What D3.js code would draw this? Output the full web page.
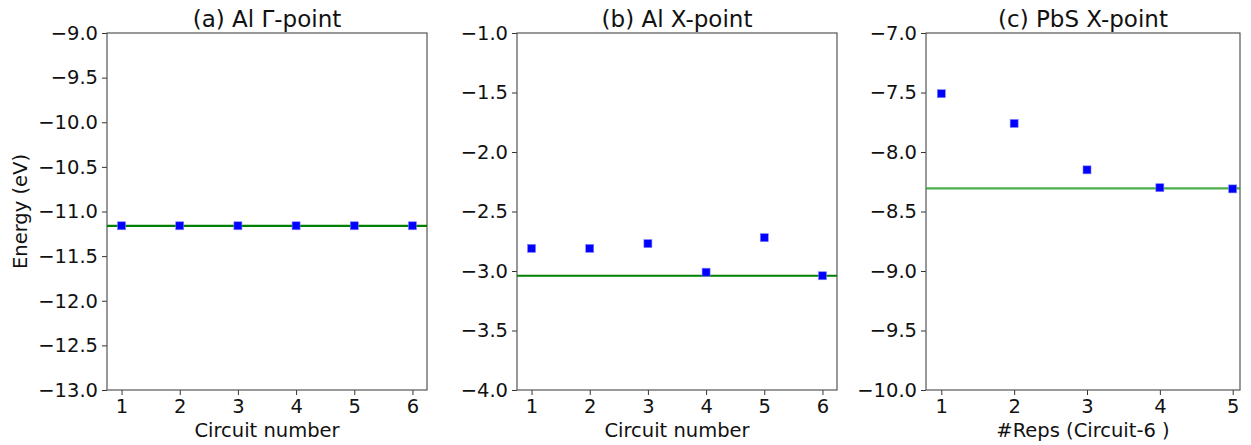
<!DOCTYPE html>
<html>
<head>
<meta charset="utf-8">
<script src="https://cdn.jsdelivr.net/npm/d3@7"></script>
<style>
  body { margin: 0; background: #fff; }
  text { font-family: "DejaVu Sans", sans-serif; fill: #111; }
</style>
</head>
<body>
<div class="chart"></div>
<script>
// panel titles
var titles = ["(a) Al Γ-point", "(b) Al X-point", "(c) PbS X-point"];
var xLabels = ["Circuit number", "Circuit number", "#Reps (Circuit-6 )"];

// x values for each panel
var circuits = [1, 2, 3, 4, 5, 6];
var reps = [1, 2, 3, 4, 5];

// energies (eV)
var alGamma = [-11.16, -11.16, -11.16, -11.16, -11.16, -11.16];
var alX = [-2.81, -2.81, -2.77, -3.01, -2.72, -3.04];
var pbsX = [-7.51, -7.76, -8.15, -8.30, -8.31];

// exact reference energies (green lines)
var exactE = [-11.16, -3.04, -8.305];

// y axis ranges and ticks
var yDomains = [[-13, -9], [-4, -1], [-10, -7]];
var yTicks = [
    d3.range(-13, -8.99, 0.5),
    d3.range(-4, -0.99, 0.5),
    d3.range(-10, -6.99, 0.5)
];
var xDomains = [[0.75, 6.25], [0.75, 6.25], [0.79, 5.1]];

var panels = [
    {x: circuits, y: alGamma, left: 107, right: 427, line: "#008000", lineOp: 1},
    {x: circuits, y: alX, left: 517, right: 837, line: "#008000", lineOp: 1},
    {x: reps, y: pbsX, left: 926, right: 1240, line: "#2ca02c", lineOp: 0.85}
];

var width = 1251, height = 445;
var top_ = 33, bottom = 390;

var svg = d3.select(".chart").append("svg")
    .attr("width", width)
    .attr("height", height);

var fmt = function(d) { return d3.format(".1f")(d).replace("-", "−"); };

panels.forEach(function(p, i) {
    var x = d3.scaleLinear().domain(xDomains[i]).range([p.left, p.right]);
    var y = d3.scaleLinear().domain(yDomains[i]).range([bottom, top_]);

    var g = svg.append("g");

    // axes
    g.append("g")
        .attr("transform", "translate(0," + bottom + ")")
        .call(d3.axisBottom(x).tickValues(p.x).tickFormat(d3.format("d")).tickSize(5).tickPadding(4))
        .call(function(a) {
            a.select(".domain").remove();
            a.selectAll("line").attr("stroke", "#333");
            a.selectAll("text").style("font-size", "19.5px").attr("fill", "#111");
        });

    g.append("g")
        .attr("transform", "translate(" + p.left + ",0)")
        .call(d3.axisLeft(y).tickValues(yTicks[i]).tickFormat(fmt).tickSize(5).tickPadding(4))
        .call(function(a) {
            a.select(".domain").remove();
            a.selectAll("line").attr("stroke", "#333");
            a.selectAll("text").style("font-size", "19.5px").attr("fill", "#111");
        });

    // frame
    g.append("rect")
        .attr("x", p.left)
        .attr("y", top_)
        .attr("width", p.right - p.left)
        .attr("height", bottom - top_)
        .attr("fill", "none")
        .attr("stroke", "#555")
        .attr("stroke-width", 1.2);

    // exact line
    g.append("line")
        .attr("x1", p.left)
        .attr("x2", p.right)
        .attr("y1", y(exactE[i]))
        .attr("y2", y(exactE[i]))
        .attr("stroke", p.line)
        .attr("stroke-opacity", p.lineOp)
        .attr("stroke-width", 2.2);

    // markers
    g.selectAll(".pt")
        .data(p.x)
        .enter().append("rect")
        .attr("class", "pt")
        .attr("x", function(d) { return x(d) - 4; })
        .attr("y", function(d, j) { return y(p.y[j]) - 4; })
        .attr("width", 8)
        .attr("height", 8)
        .attr("fill", "#0000ff")
        .attr("stroke", "#8080ff")
        .attr("stroke-width", 0.6);

    // title
    g.append("text")
        .attr("x", (p.left + p.right) / 2)
        .attr("y", 27)
        .attr("text-anchor", "middle")
        .style("font-size", "23px")
        .text(titles[i]);

    // x label
    g.append("text")
        .attr("x", (p.left + p.right) / 2)
        .attr("y", 437)
        .attr("text-anchor", "middle")
        .style("font-size", "19.5px")
        .text(xLabels[i]);
});

svg.append("text")
    .attr("transform", "translate(27," + (top_ + bottom) / 2 + ") rotate(-90)")
    .attr("text-anchor", "middle")
    .style("font-size", "19.5px")
    .text("Energy (eV)");
</script>
</body>
</html>
